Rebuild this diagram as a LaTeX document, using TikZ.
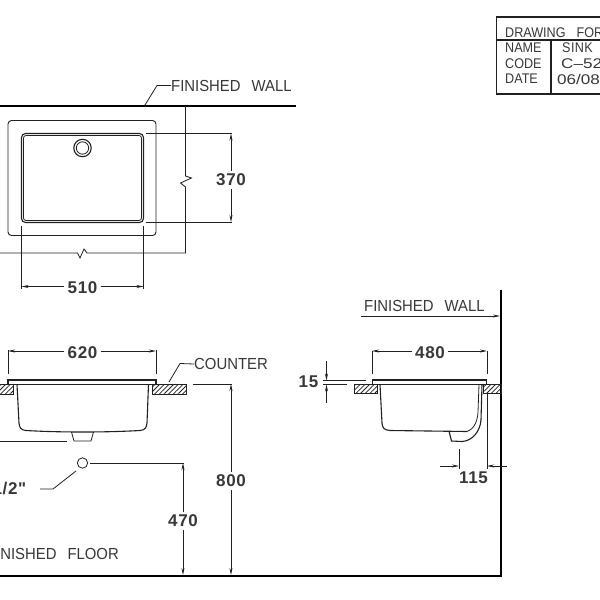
\documentclass[tikz,border=0pt]{standalone}
\usepackage{fontspec}
\setmainfont{Liberation Sans}
\newfontfamily\cadfont[FakeStretch=0.93]{Liberation Sans}
\newfontfamily\tblfont[FakeStretch=0.9]{Liberation Sans}
\newfontfamily\valfont[FakeStretch=1.22]{Liberation Sans}
\newfontfamily\numfont[LetterSpace=4]{Liberation Sans Bold}
\usetikzlibrary{arrows.meta,patterns.meta}
\definecolor{ink}{gray}{0.13}
\definecolor{txt}{gray}{0.22}
\tikzset{
  x=1pt,y=-1pt,
  thinl/.style={line width=0.8pt,draw=ink},
  body/.style={line width=1.1pt,draw=ink},
  wallline/.style={line width=2pt,draw=black},
  dimarrow/.style={line width=0.8pt,draw=ink,-{Stealth[length=7pt,width=3pt]}},
  label/.style={inner sep=0pt,text=txt,font=\fontsize{16}{16}\selectfont\cadfont},
  num/.style={inner sep=0pt,text=txt,font=\fontsize{17}{17}\selectfont\numfont},
  tbl/.style={inner sep=0pt,anchor=west,text=txt,font=\fontsize{14}{14}\selectfont\tblfont},
  hatched/.style={line width=0.8pt,draw=ink,pattern={Lines[angle=45,distance=3.3pt,line width=0.8pt]},pattern color=ink},
}
\begin{document}
\begin{tikzpicture}
\useasboundingbox (0,0) rectangle (600,600);
\clip (0,0) rectangle (600,600);
\fill[white] (0,0) rectangle (600,600);

% ---- title block
\draw[line width=1.1pt,draw=ink] (610,17) -- (496.5,17) -- (496.5,94) -- (610,94);
\draw[line width=1.1pt,draw=ink] (496.5,40) -- (610,40);
\draw[line width=1.1pt,draw=ink] (551,40) -- (551,94);
\node[tbl] (tTitle) at (505,33) {DRAWING\hspace*{11pt}FOR};
\node[tbl] (tName) at (505,48) {NAME};
\node[tbl] (tCode) at (505,63.5) {CODE};
\node[tbl] (tDate) at (505,79) {DATE};
\node[tbl] (vName) at (562,48) {\addfontfeature{LetterSpace=3}SINK};
\node[tbl] (vCode) at (561,63.5) {\valfont C–52};
\node[tbl] (vDate) at (557,79) {\valfont 06/08};

% ---- plan view
\draw[wallline] (0,106) -- (296,106);
\coordinate (wallA) at (145,105);
\node[label,anchor=west] (fwA) at (171,85.5) {FINISHED\hspace*{11pt}WALL};
\draw[thinl] (wallA) -- (157,85.5) -- (fwA.west);
\draw[body,line width=0.9pt,rounded corners=3.5pt] (8,120.5) rectangle (156,235.5);
\draw[body,rounded corners=4pt] (21.5,133.5) rectangle (143.5,222.5);
\draw[thinl,rounded corners=2.5pt] (23.5,135.5) rectangle (141.5,220.5);
\draw[body] (82.5,148) circle (8.7);
\draw[thinl] (82.5,148) circle (6.2);
\draw[thinl] (185.5,106) -- (185.5,176) -- (191.5,178) -- (180.5,183) -- (185.5,187) -- (185.5,253)
  -- (87,253) -- (84,249) -- (80,258) -- (77.5,253) -- (0,253);
\draw[thinl] (146,133.5) -- (232,133.5);
\draw[thinl] (146,222) -- (232,222);
\node[num] (d370) at (231,180) {370};
\draw[dimarrow] (d370.north) ++(0,-3) -- (231,133.5);
\draw[dimarrow] (d370.south) ++(0,3) -- (231,222);
\draw[thinl] (21.5,226) -- (21.5,289);
\draw[thinl] (143.5,226) -- (143.5,289);
\node[num] (d510) at (82.5,288) {510};
\draw[dimarrow] (d510.west) ++(-3,-1.5) -- (21.5,286.5);
\draw[dimarrow] (d510.east) ++(3,-1.5) -- (143.5,286.5);

% ---- front view
\draw[wallline] (0,576) -- (502,576);
\draw[wallline] (501,290) -- (501,577);
\draw[hatched] (-5,384.5) rectangle (13.5,394);
\draw[hatched] (152,384.5) rectangle (186,394);
\draw[body] (8,380) rectangle (156,384.5);
\draw[body] (17,384.5) -- (19,423) .. controls (19.5,428) and (21,430) .. (26,430.5)
  .. controls (60,432.5) and (105,432.5) .. (140,430.5)
  .. controls (145,430) and (146.5,428) .. (147,423) -- (148.5,384.5);
\draw[thinl] (71.5,432) -- (74,441) -- (91,441) -- (93.5,432);
\draw[thinl] (0,441.5) -- (67,441.5);
\node[num] (d620) at (82.5,353) {620};
\draw[thinl] (8,350) -- (8,374);
\draw[thinl] (156,350) -- (156,374);
\draw[dimarrow] (d620.west) ++(-3,-2) -- (8,351);
\draw[dimarrow] (d620.east) ++(3,-2) -- (156,351);
\node[label,anchor=west] (cnt) at (194,364) {COUNTER};
\coordinate (cntA) at (169,382);
\draw[thinl] (cntA) -- (180,363.5) -- (cnt.west);
\draw[thinl] (82.5,463) circle (5.2);
\node[num,anchor=east] (pipe) at (26.5,488.5) {1/2"};
\draw[thinl] (76,471) -- (53,489) -- (40,489);
\draw[thinl] (90,463) -- (184,463);
\node[num] (d470) at (183,521) {470};
\draw[dimarrow] (d470.north) ++(0,-3) -- (183,463);
\draw[dimarrow] (d470.south) ++(0,3) -- (183,575);
\draw[thinl] (193,384) -- (232,384);
\node[num] (d800) at (231,481) {800};
\draw[dimarrow] (d800.north) ++(0,-3) -- (231,384);
\draw[dimarrow] (d800.south) ++(0,3) -- (231,575);
\node[label,anchor=east] (floor) at (119,554) {FINISHED\hspace*{11pt}FLOOR};

% ---- side view
\node[label,anchor=west] (fwB) at (364,305.5) {FINISHED\hspace*{11pt}WALL};
\draw[dimarrow] (361,316) -- (500,316);
\draw[hatched] (354,384.5) rectangle (377,393.5);
\draw[hatched] (483.5,384.5) rectangle (501,393.5);
\draw[body] (372.5,380) rectangle (486.5,384.5);
\draw[body] (380,384.5) -- (382,423) .. controls (382.5,428) and (384,430) .. (390,430.5)
  -- (467,431.5);
\draw[body] (482,384.5) -- (481,420) .. controls (480,432) and (472,441) .. (462,441.5)
  -- (451.5,441) -- (449,431);
\draw[thinl] (479,384.5) -- (478,412) .. controls (477.5,424) and (472,430) .. (467,431.5);
\node[num] (d480) at (430,353) {480};
\draw[thinl] (372,351) -- (372,374);
\draw[thinl] (487,351) -- (487,374);
\draw[dimarrow] (d480.west) ++(-3,-2) -- (372,351);
\draw[dimarrow] (d480.east) ++(3,-2) -- (487,351);
\node[num,anchor=east] (d15) at (318.5,381.5) {15};
\draw[thinl] (323,380.5) -- (366,380.5);
\draw[thinl] (323,384.5) -- (347,384.5);
\coordinate (a15) at (326.5,361);
\coordinate (b15) at (326.5,403);
\draw[dimarrow] (a15) -- (326.5,380.5);
\draw[dimarrow] (b15) -- (326.5,384.5);
\draw[thinl] (459,449) -- (459,469);
\draw[thinl] (487,394) -- (487,469);
\coordinate (a115) at (440,466);
\coordinate (b115) at (507,466);
\draw[dimarrow] (a115) -- (459,466);
\draw[dimarrow] (b115) -- (487,466);
\node[num] (d115) at (473.5,478) {115};
\end{tikzpicture}
\end{document}
